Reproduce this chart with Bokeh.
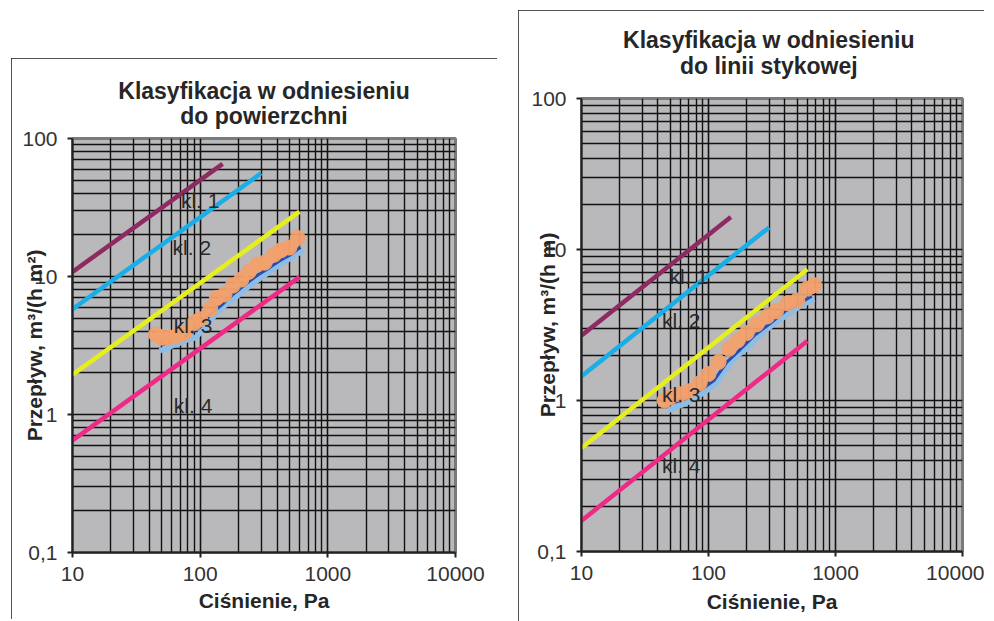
from bokeh.plotting import figure
from bokeh.models import FixedTicker, CustomJSTickFormatter, Range1d, ColumnDataSource, LinearAxis
from bokeh.layouts import row
from bokeh.core.properties import value
from bokeh.embed import file_html
from bokeh.resources import INLINE

FONT = "Liberation Sans"

# ---- axis ticks ----
x_major = [10, 100, 1000, 10000]
y_major = [0.1, 1, 10, 100]
x_minor = [m * d for d in [10, 100, 1000] for m in range(2, 10)]
y_minor = [m * d for d in [0.1, 1, 10] for m in range(2, 10)]

# ---- class lines (endpoints) ----
class_names = ["kl. 1", "kl. 2", "kl. 3", "kl. 4"]
class_colors = ["#8e2a62", "#1aaee8", "#e6ee1e", "#ee2a86"]

left_class_x = [[10, 150], [10, 300], [10, 600], [10, 600]]
left_class_y = [[10.8, 65.5], [5.8, 56.0], [1.94, 29.5], [0.65, 9.9]]
left_label_x = [100, 86, 88, 88]
left_label_y = [35.5, 16.3, 4.4, 1.16]

right_class_x = [[10, 150], [10, 300], [10, 600], [10, 600]]
right_class_y = [[2.7, 16.4], [1.45, 14.0], [0.485, 7.4], [0.16, 2.48]]
right_label_x = [70, 61, 61, 61]
right_label_y = [6.6, 3.4, 1.1, 0.37]

# ---- measured series: surface (left) ----
left_orange_p = [45, 50, 57, 65, 75, 90, 100, 120, 135, 155, 180, 210, 240, 280, 320, 380, 430, 500, 580]
left_orange_q = [3.8, 3.6, 3.6, 3.7, 3.9, 4.6, 4.9, 5.8, 7.0, 7.4, 8.6, 9.5, 10.8, 12.2, 12.6, 14.4, 15.5, 16.2, 19.0]
left_dark_p = [50, 60, 70, 85, 100, 120, 150, 180, 230, 280, 350, 420, 500, 610]
left_dark_q = [3.2, 3.4, 3.6, 3.9, 4.3, 5.3, 6.3, 7.4, 8.9, 10.2, 11.6, 13.0, 14.2, 16.3]
left_light_p = [48, 55, 62, 70, 80, 92, 105, 120, 140, 160, 185, 215, 250, 290, 340, 400, 470, 550, 640]
left_light_q = [2.9, 3.0, 3.2, 3.3, 3.5, 3.6, 4.1, 4.8, 5.6, 6.3, 6.9, 7.8, 8.7, 9.6, 10.6, 11.8, 13.0, 14.2, 15.4]

# ---- measured series: contact line (right) ----
right_orange_p = [45, 50, 60, 70, 85, 100, 120, 145, 170, 200, 240, 290, 340, 420, 500, 600, 680]
right_orange_q = [1.0, 1.05, 1.1, 1.15, 1.3, 1.5, 1.8, 2.2, 2.5, 2.8, 3.2, 3.6, 3.9, 4.4, 4.6, 5.5, 5.8]
right_dark_p = [50, 60, 75, 90, 110, 140, 180, 230, 300, 400, 520, 650]
right_dark_q = [0.95, 1.0, 1.1, 1.2, 1.35, 1.8, 2.2, 2.7, 3.2, 3.9, 4.4, 4.9]
right_light_p = [48, 55, 65, 80, 95, 115, 140, 170, 200, 230, 280, 340, 420, 520, 680]
right_light_q = [0.86, 0.9, 0.95, 1.05, 1.15, 1.3, 1.65, 2.0, 2.2, 2.5, 2.9, 3.3, 3.7, 4.2, 4.7]


def title_axis(text, standoff):
    return LinearAxis(ticker=FixedTicker(ticks=[]), axis_label=text,
                      axis_label_standoff=standoff,
                      axis_label_text_font=FONT, axis_label_text_font_size="23px",
                      axis_label_text_font_style="bold",
                      axis_label_text_color="#262626",
                      axis_line_color=None, major_tick_line_color=None,
                      minor_tick_line_color=None,
                      major_tick_out=0, major_tick_in=0, major_label_standoff=0)


def make_panel(title1, title2, ylabel, cx, cy, lx, ly, op, oq, dp, dq, lp, lq,
               fw, fh, bl, br, bt, bb, margin, ylab_standoff, xlab_standoff,
               t1_so, t2_so):
    p = figure(x_axis_type="log", y_axis_type="log",
               x_range=Range1d(10, 10000), y_range=Range1d(0.1, 100),
               frame_width=fw, frame_height=fh,
               min_border_left=bl, min_border_right=br,
               min_border_top=bt, min_border_bottom=bb,
               output_backend="svg", toolbar_location=None,
               title=None, margin=margin, frame_align=False)
    p.styles = {"outline": "2px solid #1a1a1a", "outline-offset": "-2px"}
    p.background_fill_color = "#b9b9bb"
    p.border_fill_color = "white"
    p.outline_line_color = "#7a7a7a"
    p.outline_line_width = 3

    # two centred title lines (nearest the frame first)
    p.add_layout(title_axis(title2, t2_so), "above")
    p.add_layout(title_axis(title1, t1_so), "above")

    xa, ya = p.below[0], p.left[0]
    fmt = CustomJSTickFormatter(code="return tick < 1 ? tick.toString().replace('.', ',') : tick.toFixed(0);")
    xa.ticker = FixedTicker(ticks=x_major, minor_ticks=x_minor)
    ya.ticker = FixedTicker(ticks=y_major, minor_ticks=y_minor)
    for ax in (xa, ya):
        ax.formatter = fmt
        ax.major_label_text_font = FONT
        ax.major_label_text_font_size = "21px"
        ax.major_label_text_color = "#333333"
        ax.axis_label_text_font = FONT
        ax.axis_label_text_font_size = "21px"
        ax.axis_label_text_font_style = "bold"
        ax.axis_label_text_color = "#262626"
        ax.axis_line_color = "#222222"
        ax.axis_line_width = 2
        ax.major_tick_line_color = "#222222"
        ax.major_tick_line_width = 2
        ax.major_tick_out = 5
        ax.major_tick_in = 0
        ax.minor_tick_line_color = None
    xa.axis_label = "Ciśnienie, Pa"
    ya.axis_label = ylabel
    xa.major_label_standoff = 9
    ya.major_label_standoff = 10
    xa.axis_label_standoff = xlab_standoff
    ya.axis_label_standoff = ylab_standoff

    for g in (p.xgrid, p.ygrid):
        g.grid_line_color = "#111111"
        g.grid_line_width = 1.6
        g.minor_grid_line_color = "#111111"
        g.minor_grid_line_width = 1.4

    for xs, ys, c in zip(cx, cy, class_colors):
        p.line(xs, ys, line_color=c, line_width=4.5)

    p.line(lp, lq, line_color="#8cbde6", line_width=5.5)
    p.line(dp, dq, line_color="#2a4db0", line_width=3)
    p.scatter(op, oq, marker="circle", size=15, fill_color="#f2a06c",
              line_color="#f2a06c", fill_alpha=0.95)

    src = ColumnDataSource(dict(x=lx, y=ly, t=class_names))
    p.text(x="x", y="y", text="t", source=src, text_font=value(FONT),
           text_font_size="21px", text_align="center", text_baseline="middle",
           text_color="#2a2a2a")
    return p


left = make_panel("Klasyfikacja w odniesieniu", "do powierzchni",
                  "Przepływ, m³/(h m²)",
                  left_class_x, left_class_y, left_label_x, left_label_y,
                  left_orange_p, left_orange_q, left_dark_p, left_dark_q,
                  left_light_p, left_light_q,
                  fw=383, fh=414, bl=61, br=42, bt=80, bb=67,
                  margin=(58, 0, 0, 11), ylab_standoff=-27, xlab_standoff=5,
                  t1_so=-4, t2_so=10)

right = make_panel("Klasyfikacja  w odniesieniu", "do linii  stykowej",
                   "Przepływ, m³/(h m)",
                   right_class_x, right_class_y, right_label_x, right_label_y,
                   right_orange_p, right_orange_q, right_dark_p, right_dark_q,
                   right_light_p, right_light_q,
                   fw=381, fh=453, bl=63, br=22, bt=88, bb=70,
                   margin=(10, 0, 0, 21), ylab_standoff=-31, xlab_standoff=7,
                   t1_so=-3, t2_so=20)

layout = row(left, right)
open("out.html", "w").write(file_html(layout, INLINE))
